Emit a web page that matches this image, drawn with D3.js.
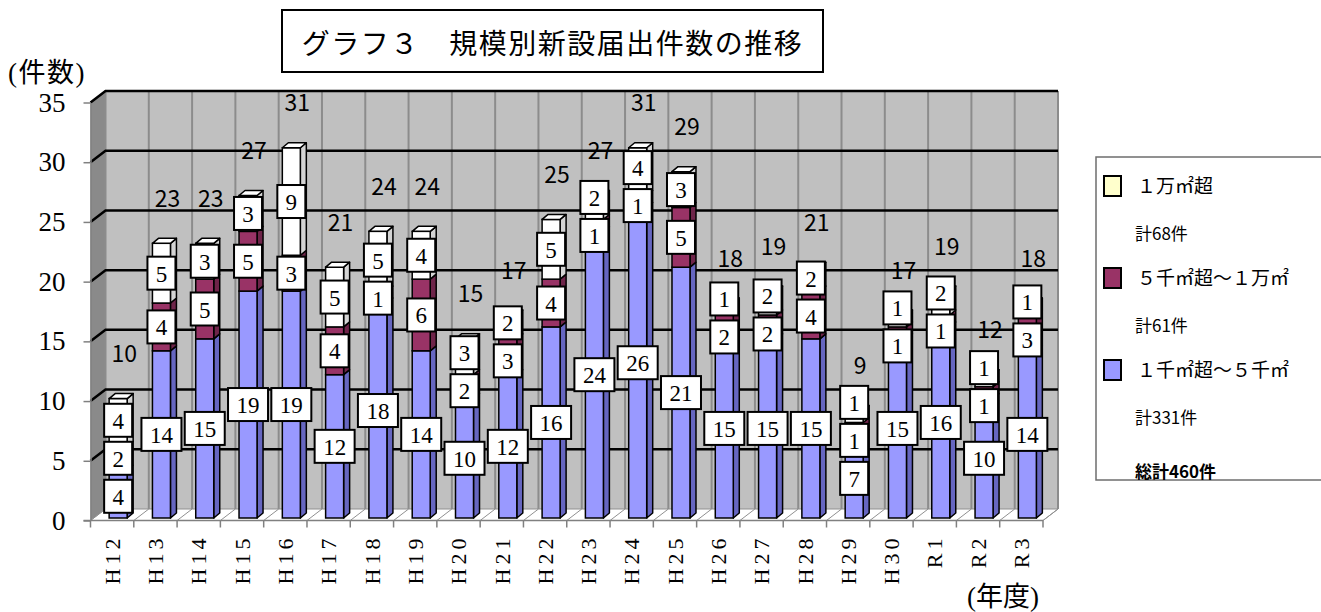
<!DOCTYPE html>
<html><head><meta charset="utf-8">
<script src="https://cdn.jsdelivr.net/npm/d3@7"></script>
<style>body{margin:0;background:#fff} svg{display:block}
.serif{font-family:"Liberation Serif","Times New Roman","DejaVu Serif",serif}
.serifj{font-family:"Liberation Serif","Times New Roman","DejaVu Serif","Noto Sans CJK JP",serif}
.goth{font-family:"Noto Sans CJK JP",sans-serif}
</style>
</head><body><svg id="c" width="1321" height="612"></svg>
<script>
// ---- data ----
const categories = ["H12","H13","H14","H15","H16","H17","H18","H19","H20","H21","H22","H23","H24","H25","H26","H27","H28","H29","H30","R1","R2","R3"];
const small  = [4,14,15,19,19,12,18,14,10,12,16,24,26,21,15,15,15,7,15,16,10,14]; // 1千㎡超～5千㎡
const medium = [2,4,5,5,3,4,1,6,2,3,4,1,1,5,2,2,4,1,1,1,1,3];                      // 5千㎡超～1万㎡
const large  = [4,5,3,3,9,5,5,4,3,2,5,2,4,3,1,2,2,1,1,2,1,1];                      // 1万㎡超
const totals = [10,23,23,27,31,21,24,24,15,17,25,27,31,29,18,19,21,9,17,19,12,18];
const yTicks = [0,5,10,15,20,25,30,35];
const seriesKeys = ["small","medium","large"];
const legendNames = ["１万㎡超","５千㎡超～１万㎡","１千㎡超～５千㎡"];
const legendSubtotals = ["計68件","計61件","計331件"];
const grandTotal = "総計460件";
const titleText = "グラフ３　規模別新設届出件数の推移";
const yAxisTitle = "(件数)";
const xAxisTitle = "(年度)";

// ---- layout ----
const svg = d3.select("#c");
const X0 = 90.5, X1 = 1043, Y0 = 520.5, Y1 = 102.5;
const DX = 15, DY = -11.5;          // wall depth
const BW = 18, BDX = 6, BDY = -5, BOFF = -3, BY = -2.5; // bar geometry
const x = d3.scaleBand().domain(categories).range([X0, X1]);
const y = d3.scaleLinear().domain([0, 35]).range([Y0, Y1]);
const colors = {
  small:  {front:"#9999ff", side:"#6666c0", top:"#b3b3ff"},
  medium: {front:"#993366", side:"#6e2449", top:"#b8527f"},
  large:  {front:"#ffffff", side:"#d4d4d4", top:"#ffffff"}
};
const pts = a => a.map(p => p.join(",")).join(" ");

// title
svg.append("rect").attr("x",282).attr("y",10).attr("width",541).attr("height",62)
  .attr("fill","#fff").attr("stroke","#000").attr("stroke-width",2);
svg.append("text").attr("class","goth").attr("x",552.5).attr("y",42).attr("text-anchor","middle")
  .attr("dominant-baseline","central").attr("font-size",28).attr("letter-spacing",1.5).text(titleText);

// walls
svg.append("polygon").attr("points", pts([[X0,y(0)],[X0+DX,y(0)+DY],[X0+DX,y(35)+DY],[X0,y(35)]]))
  .attr("fill","#8a8a8a");
svg.append("rect").attr("x",X0+DX).attr("y",y(35)+DY).attr("width",X1-X0).attr("height",y(0)-y(35))
  .attr("fill","#c0c0c0");
svg.append("polygon").attr("points", pts([[X0,Y0],[X1,Y0],[X1+DX,Y0+DY],[X0+DX,Y0+DY]]))
  .attr("fill","#fff").attr("stroke","#909090").attr("stroke-width",1);

const bounds = categories.map(c => x(c)).concat([X1]);
bounds.forEach(b => {
  svg.append("line").attr("x1",b+DX).attr("x2",b+DX).attr("y1",y(0)+DY).attr("y2",y(35)+DY)
    .attr("stroke","#8c8c8c").attr("stroke-width",2);
  svg.append("line").attr("x1",b).attr("x2",b+DX).attr("y1",Y0).attr("y2",Y0+DY)
    .attr("stroke","#909090").attr("stroke-width",1);
});
yTicks.filter(t => t > 0).forEach(t => {
  svg.append("polyline").attr("points", pts([[X0,y(t)],[X0+DX,y(t)+DY],[X1+DX,y(t)+DY]]))
    .attr("fill","none").attr("stroke","#000").attr("stroke-width",2.5);
});

// axes
const yAxis = svg.append("g").attr("transform",`translate(${X0},0)`)
  .call(d3.axisLeft(y).tickValues(yTicks).tickSize(7).tickPadding(18).tickSizeOuter(0));
yAxis.attr("font-family",null).attr("font-size",null);
yAxis.select(".domain").attr("stroke","#808080").attr("stroke-width",1.5);
yAxis.selectAll(".tick line").attr("stroke","#808080").attr("stroke-width",1.5);
yAxis.selectAll(".tick text").attr("class","serif").attr("font-size",27).attr("fill","#000");

const xAxis = svg.append("g").attr("transform",`translate(0,${Y0})`)
  .call(d3.axisBottom(x).tickSize(0).tickSizeOuter(0));
xAxis.attr("font-family",null).attr("font-size",null);
xAxis.select(".domain").attr("stroke","#808080").attr("stroke-width",1.5)
  .attr("d",`M${X0-7},0H${X1}`);
xAxis.selectAll(".tick text").attr("class","serif").attr("font-size",22)
  .attr("letter-spacing",4).attr("fill","#000")
  .attr("transform","rotate(-90)").attr("text-anchor","end")
  .attr("x",-14).attr("y",0).attr("dy","0.35em");
bounds.forEach(b => {
  xAxis.append("line").attr("x1",b).attr("x2",b).attr("y1",0).attr("y2",7)
    .attr("stroke","#808080").attr("stroke-width",1.5);
});

svg.append("text").attr("class","serifj").attr("x",8).attr("y",82).attr("font-size",27)
  .attr("letter-spacing",1.5).text(yAxisTitle);
svg.append("text").attr("class","serifj").attr("x",1003).attr("y",597).attr("text-anchor","middle")
  .attr("dominant-baseline","central").attr("font-size",27).text(xAxisTitle);

// bars
const rows = categories.map((c,i) => ({cat:c, small:small[i], medium:medium[i], large:large[i]}));
const stacked = d3.stack().keys(seriesKeys)(rows);
const gBars = svg.append("g");
const labelGroups = [];
rows.forEach((r,i) => {
  const fx = x(r.cat) + x.bandwidth()/2 + BOFF;
  const group = [];
  stacked.forEach((layer,li) => {
    const [v0,v1] = layer[i];
    if (v1 - v0 <= 0) return;
    const key = layer.key, col = colors[key];
    const yb = y(v0)+BY, yt = y(v1)+BY;
    gBars.append("polygon").attr("points", pts([[fx+BW,yb],[fx+BW+BDX,yb+BDY],[fx+BW+BDX,yt+BDY],[fx+BW,yt]]))
      .attr("fill",col.side).attr("stroke","#000").attr("stroke-width",1.5).attr("stroke-linejoin","round");
    gBars.append("rect").attr("x",fx).attr("y",yt).attr("width",BW).attr("height",yb-yt)
      .attr("fill",col.front).attr("stroke","#000").attr("stroke-width",1.5);
    const isTop = stacked.slice(li+1).every(l => l[i][1]-l[i][0] <= 0);
    if (isTop) {
      gBars.append("polygon").attr("points", pts([[fx,yt],[fx+BDX,yt+BDY],[fx+BW+BDX,yt+BDY],[fx+BW,yt]]))
        .attr("fill",col.top).attr("stroke","#000").attr("stroke-width",1.5).attr("stroke-linejoin","round");
    }
    group.push({cx:fx+BW/2, cy:(yb+yt)/2, v:v1-v0});
  });
  // spread overlapping labels apart (as the spreadsheet did)
  const GAP = 38;
  for (let it = 0; it < 60; it++) {
    for (let k = 0; k < group.length-1; k++) {
      const d = group[k].cy - group[k+1].cy;
      if (d < GAP) { const s = (GAP-d)/2; group[k].cy += s; group[k+1].cy -= s; }
    }
  }
  labelGroups.push(group);
});

// value boxes
const gLab = svg.append("g");
labelGroups.flat().forEach(l => {
  const w = String(l.v).length === 1 ? 28 : 40, h = 33;
  gLab.append("rect").attr("x",l.cx-w/2).attr("y",l.cy-h/2).attr("width",w).attr("height",h)
    .attr("fill","#fff").attr("stroke","#000").attr("stroke-width",2);
  gLab.append("text").attr("class","serif").attr("x",l.cx).attr("y",l.cy+1).attr("text-anchor","middle")
    .attr("dominant-baseline","central").attr("font-size",23).text(l.v);
});

// totals
rows.forEach((r,i) => {
  const cx = x(r.cat) + x.bandwidth()/2 + BOFF + BW/2 + 6;
  svg.append("text").attr("class","goth").attr("x",cx).attr("y",y(totals[i]+4.1)).attr("text-anchor","middle")
    .attr("dominant-baseline","central").attr("font-size",23).text(totals[i]);
});

// legend
const lg = svg.append("g");
lg.append("rect").attr("x",1096).attr("y",157).attr("width",240).attr("height",323)
  .attr("fill","#fff").attr("stroke","#6e6e6e").attr("stroke-width",1.5);
const legendFills = ["#ffffcc","#993366","#9999ff"];
legendNames.forEach((n,i) => {
  const cy = 186 + i*92;
  lg.append("rect").attr("x",1104).attr("y",cy-10).attr("width",17).attr("height",20)
    .attr("fill",legendFills[i]).attr("stroke","#000").attr("stroke-width",2);
  lg.append("text").attr("class","serifj").attr("x",1137).attr("y",cy).attr("dominant-baseline","central")
    .attr("font-size",19).text(n);
  lg.append("text").attr("class","goth").attr("x",1135).attr("y",cy+46).attr("dominant-baseline","central")
    .attr("font-size",17).text(legendSubtotals[i]);
});
lg.append("text").attr("class","goth").attr("x",1135).attr("y",470).attr("dominant-baseline","central")
  .attr("font-size",17).attr("font-weight",700).text(grandTotal);
</script></body></html>
